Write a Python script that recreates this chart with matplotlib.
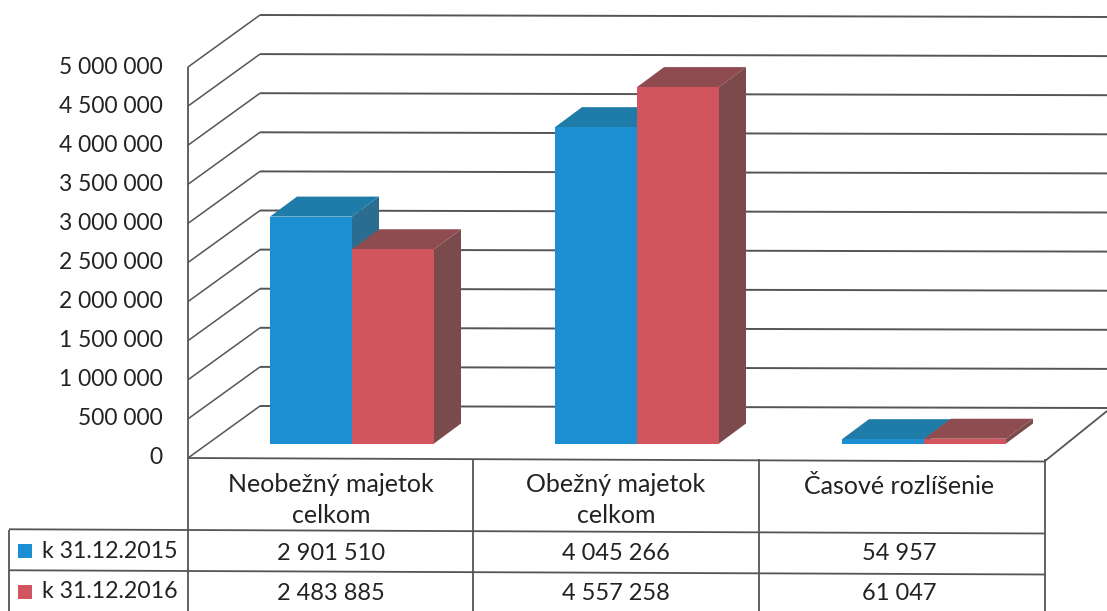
import matplotlib.pyplot as plt

categories = ["Neobežný majetok\ncelkom", "Obežný majetok\ncelkom", "Časové rozlíšenie"]
series_names = ["k 31.12.2015", "k 31.12.2016"]
values_2015 = [2901510, 4045266, 54957]
values_2016 = [2483885, 4557258, 61047]
cell_2015 = ["2 901 510", "4 045 266", "54 957"]
cell_2016 = ["2 483 885", "4 557 258", "61 047"]
ticks = [0, 500000, 1000000, 1500000, 2000000, 2500000, 3000000, 3500000, 4000000, 4500000, 5000000]
tick_labels = ["0", "500 000", "1 000 000", "1 500 000", "2 000 000", "2 500 000",
               "3 000 000", "3 500 000", "4 000 000", "4 500 000", "5 000 000"]

plt.rcParams['font.family'] = ['Lato', 'DejaVu Sans']

BLUE = ("#1b8fd2", "#1f7ca8", "#2b6d90")
RED = ("#d2555d", "#8e4b50", "#7b4a4d")
LINE = "#555555"
TEXT = "#222222"

# x in pixels, y in chart units: 5 000 000 spans 391 px
U = 5000000 / 391


def py(px):
    return (458 - px) * U


fig = plt.figure(figsize=(11.07, 6.11), dpi=100)
ax = fig.add_axes([0, 0, 1, 1])
ax.set_xlim(0, 1107)
ax.set_ylim(py(611), py(0))
ax.axis("off")


def tilt(x):
    # the page is scanned slightly crooked
    return 3.5 * (x - 188) / 857


def line(x0, y0, x1, y1, lw=1.3):
    ax.plot([x0, x1], [py(y0), py(y1)], color=LINE, lw=lw, zorder=1, solid_capstyle="butt")


# back wall and side wall gridlines
for v, label in zip(ticks, tick_labels):
    yf = 458 - v / U
    line(188, yf, 260, yf - 52, 1.1)
    line(260, yf - 52, 1107, yf - 52 + 2, 1.4)
    ax.text(163, py(yf), label, ha="right", va="center", fontsize=16.4, color=TEXT)

# floor edge and table
line(188, 67, 188, 611)
line(1045, 461, 1107, 411)
line(188, 458, 1045, 458 + tilt(1045))
for y in [530, 571]:
    line(9, y + tilt(9), 1045, y + tilt(1045))
line(9, 530, 9, 611)
for x in [473, 759, 1045]:
    line(x, 459, x, 611)

# bars with depth
bar_w = 82
dep_x, dep_y = 27, 20
floor_px = 443.5
lefts = [270, 555, 842]
for i, left in enumerate(lefts):
    for j, (vals, cols) in enumerate([(values_2015, BLUE), (values_2016, RED)]):
        x0 = left + j * bar_w
        x1 = x0 + bar_w
        b = py(floor_px)
        t = b + vals[i]
        d = dep_y * U
        z = 3 + j
        ax.fill([x1, x1 + dep_x, x1 + dep_x, x1], [b, b + d, t + d, t], color=cols[2], lw=0, zorder=z)
        ax.fill([x0, x0 + dep_x, x1 + dep_x, x1], [t, t + d, t + d, t], color=cols[1], lw=0, zorder=z)
        ax.bar(x0, vals[i], width=bar_w, bottom=b, align="edge", color=cols[0], lw=0, zorder=z)

# table text
centers = [331, 616, 899]
header_y = [500, 500, 486]
for c, hy, name, a, b in zip(centers, header_y, categories, cell_2015, cell_2016):
    ax.text(c, py(hy), name, ha="center", va="center", fontsize=18, color=TEXT, linespacing=1.45)
    ax.text(c, py(554), a, ha="center", va="center", fontsize=17, color=TEXT)
    ax.text(c, py(594), b, ha="center", va="center", fontsize=17, color=TEXT)

# legend keys in the table
for y, name, cols in zip([551, 592], series_names, [BLUE, RED]):
    ax.bar(18, 14 * U, width=14, bottom=py(y + 7), align="edge", color=cols[0], lw=0, zorder=3)
    ax.text(42, py(y), name, ha="left", va="center", fontsize=16.7, color=TEXT)

fig.savefig("out.png", dpi=100)
